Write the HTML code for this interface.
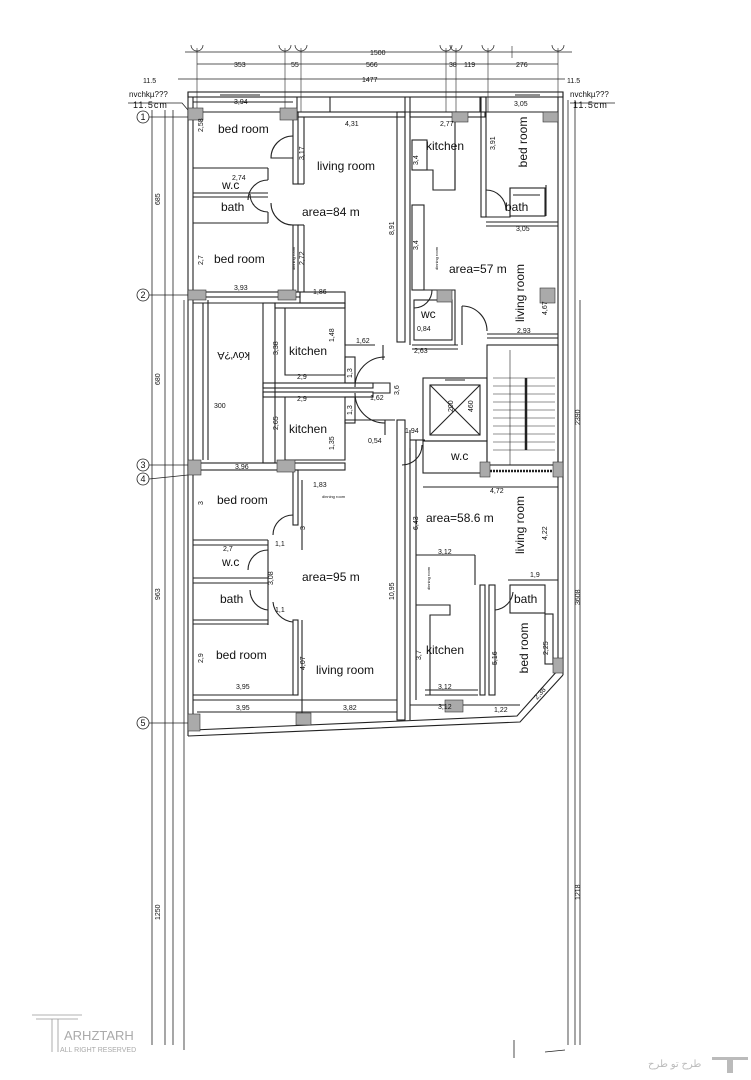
<!DOCTYPE html>
<html><head><meta charset="utf-8"><style>
html,body{margin:0;padding:0;background:#fff;}
svg{display:block;}
text{font-family:"Liberation Sans",sans-serif;fill:#111;}
.l{font-size:12px;}
.d{font-size:7px;}
.s{font-size:4px;}
.m{text-anchor:middle;}
</style></head><body>
<svg width="751" height="1080" viewBox="0 0 751 1080" xmlns="http://www.w3.org/2000/svg">
<g stroke="#222" stroke-width="0.8" fill="none">
<line x1="185" y1="52" x2="572" y2="52"/>
<line x1="197" y1="64" x2="558" y2="64"/>
<line x1="178" y1="79" x2="565" y2="79"/>
<g stroke-width="0.6">
<line x1="197" y1="48" x2="197" y2="112"/><line x1="285" y1="48" x2="285" y2="112"/><line x1="301" y1="48" x2="301" y2="112"/>
<line x1="446" y1="48" x2="446" y2="112"/><line x1="456" y1="48" x2="456" y2="112"/><line x1="488" y1="48" x2="488" y2="112"/><line x1="558" y1="48" x2="558" y2="112"/>
<line x1="512" y1="46" x2="512" y2="58"/>
</g>
<g stroke-width="0.7">
<path d="M191 45 a6 6 0 0 0 12 0"/><path d="M279 45 a6 6 0 0 0 12 0"/><path d="M295 45 a6 6 0 0 0 12 0"/>
<path d="M440 45 a6 6 0 0 0 12 0"/><path d="M450 45 a6 6 0 0 0 12 0"/><path d="M482 45 a6 6 0 0 0 12 0"/><path d="M552 45 a6 6 0 0 0 12 0"/>
</g>
<line x1="152" y1="110" x2="152" y2="1045"/>
<line x1="165" y1="110" x2="165" y2="1045"/>
<line x1="173" y1="110" x2="173" y2="1045"/>
<line x1="184" y1="300" x2="184" y2="1050"/>
<line x1="568" y1="100" x2="568" y2="1045"/>
<line x1="575" y1="100" x2="575" y2="1045"/>
<line x1="580" y1="300" x2="580" y2="1045"/>
<line x1="514" y1="1040" x2="514" y2="1058"/>
<line x1="545" y1="1052" x2="565" y2="1050"/>
<circle cx="143" cy="117" r="6"/><line x1="149" y1="117" x2="188" y2="117"/>
<circle cx="143" cy="295" r="6"/><line x1="149" y1="295" x2="188" y2="295"/>
<circle cx="143" cy="465" r="6"/><line x1="149" y1="465" x2="188" y2="465"/>
<circle cx="143" cy="479" r="6"/><line x1="149" y1="479" x2="188" y2="475"/>
<circle cx="143" cy="723" r="6"/><line x1="149" y1="723" x2="188" y2="723"/>
<path d="M128 103 H182 L188 110"/>
<path d="M570 103 H615"/>
<g stroke-width="1.1">
<rect x="188" y="92" width="375" height="5"/>
<line x1="188" y1="92" x2="188" y2="736"/><line x1="193" y1="97" x2="193" y2="731"/>
<line x1="563" y1="92" x2="563" y2="675"/><line x1="558" y1="97" x2="558" y2="670"/>
<path d="M563 675 L520 722 L188 736"/><path d="M558 670 L517 716 L193 730"/>
<line x1="193" y1="112" x2="558" y2="112"/>
<line x1="297" y1="97" x2="297" y2="112"/><line x1="330" y1="97" x2="330" y2="112"/>
<line x1="405" y1="97" x2="405" y2="112"/><line x1="410" y1="97" x2="410" y2="112"/>
<line x1="480" y1="97" x2="480" y2="112"/><line x1="486" y1="97" x2="486" y2="112"/>
<line x1="220" y1="95" x2="260" y2="95"/><line x1="515" y1="95" x2="540" y2="95"/>
<line x1="193" y1="102" x2="293" y2="102"/>
<rect x="293" y="112" width="5" height="72"/>
<rect x="293" y="225" width="5" height="67"/>
<rect x="298" y="112" width="107" height="5"/>
<line x1="193" y1="168" x2="268" y2="168"/>
<line x1="193" y1="193" x2="268" y2="193"/><line x1="193" y1="197" x2="268" y2="197"/>
<line x1="193" y1="223" x2="268" y2="223"/>
<line x1="268" y1="168" x2="268" y2="180"/><line x1="268" y1="212" x2="268" y2="223"/>
<path d="M268 180 a20 20 0 0 0 -20 20"/><path d="M268 212 a18 18 0 0 1 -18 -18"/>
<path d="M293 136 a22 22 0 0 0 -22 22 L293 158"/>
<path d="M293 225 a22 22 0 0 1 -22 -22"/>
<line x1="298" y1="225" x2="304" y2="225"/><line x1="304" y1="225" x2="304" y2="292"/>
<line x1="298" y1="184" x2="304" y2="184"/><line x1="304" y1="117" x2="304" y2="184"/>
<rect x="397" y="112" width="8" height="230"/>
<rect x="397" y="420" width="8" height="300"/>
<line x1="410" y1="112" x2="410" y2="345"/>
<rect x="410" y="112" width="75" height="5"/>
<rect x="412" y="140" width="15" height="30"/>
<path d="M427 170 H433 V190 H455 V170 H455"/>
<path d="M455 118 V190"/>
<rect x="412" y="205" width="12" height="85"/>
<rect x="481" y="97" width="5" height="120"/>
<line x1="486" y1="112" x2="558" y2="112"/>
<path d="M481 217 H510 V188 H545"/>
<path d="M486 190 a20 20 0 0 1 20 20"/>
<rect x="510" y="188" width="35" height="28"/>
<line x1="513" y1="195" x2="540" y2="195"/>
<line x1="486" y1="222" x2="558" y2="222"/><line x1="486" y1="226" x2="558" y2="226"/>
<line x1="546" y1="185" x2="546" y2="216"/>
<path d="M413 290 H455 V345"/>
<rect x="414" y="300" width="38" height="40"/>
<path d="M432 290 a18 18 0 0 1 -18 18"/>
<path d="M462 306 a25 25 0 0 1 25 25"/>
<line x1="462" y1="306" x2="462" y2="345"/>
<line x1="487" y1="334" x2="558" y2="334"/><line x1="487" y1="338" x2="558" y2="338"/>
<line x1="412" y1="345" x2="458" y2="345"/><line x1="412" y1="349" x2="458" y2="349"/>
<rect x="188" y="292" width="112" height="5"/>
<rect x="300" y="292" width="45" height="11"/>
<line x1="193" y1="303" x2="263" y2="303"/>
<rect x="263" y="303" width="12" height="160"/>
<rect x="275" y="303" width="70" height="5"/>
<path d="M285 308 V375 H345 V303"/>
<path d="M345 330 V345 H375"/>
<rect x="263" y="383" width="110" height="5"/>
<rect x="263" y="392" width="110" height="5"/>
<rect x="345" y="357" width="10" height="26"/>
<rect x="345" y="397" width="10" height="26"/>
<path d="M355 387 a30 30 0 0 1 30 -30"/>
<path d="M355 393 a30 30 0 0 0 30 30"/>
<path d="M373 383 H390 V393 H373"/>
<path d="M285 397 V460 H345 V420"/>
<line x1="345" y1="420" x2="395" y2="420"/>
<line x1="383" y1="345" x2="383" y2="360"/><line x1="385" y1="420" x2="385" y2="435"/>
<line x1="203" y1="303" x2="203" y2="460"/>
<line x1="208" y1="300" x2="208" y2="460"/>
<rect x="188" y="463" width="157" height="7"/>
<line x1="410" y1="440" x2="425" y2="440"/>
<rect x="423" y="378" width="64" height="63"/>
<rect x="430" y="385" width="50" height="50"/>
<line x1="430" y1="385" x2="480" y2="435"/><line x1="480" y1="385" x2="430" y2="435"/>
<line x1="445" y1="380" x2="465" y2="380"/>
<rect x="423" y="441" width="64" height="32"/>
<path d="M410 448 L410 460"/>
<path d="M422 445 a20 20 0 0 1 -20 20"/>
<rect x="487" y="345" width="71" height="120"/>
<g stroke-width="0.6">
<line x1="493" y1="378" x2="555" y2="378"/><line x1="493" y1="386" x2="555" y2="386"/><line x1="493" y1="394" x2="555" y2="394"/>
<line x1="493" y1="402" x2="555" y2="402"/><line x1="493" y1="410" x2="555" y2="410"/><line x1="493" y1="418" x2="555" y2="418"/>
<line x1="493" y1="426" x2="555" y2="426"/><line x1="493" y1="434" x2="555" y2="434"/><line x1="493" y1="442" x2="555" y2="442"/>
<line x1="493" y1="450" x2="555" y2="450"/><line x1="510" y1="350" x2="510" y2="465"/>
</g>
<line x1="526" y1="378" x2="526" y2="450" stroke-width="2.5"/>
<line x1="487" y1="471" x2="558" y2="471" stroke-width="2.5" stroke-dasharray="2 1"/>
<line x1="410" y1="430" x2="410" y2="720"/>
<line x1="416" y1="440" x2="416" y2="700"/>
<line x1="423" y1="487" x2="558" y2="487"/>
<line x1="416" y1="555" x2="475" y2="555"/><line x1="475" y1="555" x2="475" y2="585"/>
<path d="M416 605 H450 V615 H430 V695"/>
<rect x="480" y="585" width="5" height="110"/>
<rect x="489" y="585" width="6" height="110"/>
<line x1="508" y1="580" x2="558" y2="580"/>
<rect x="510" y="585" width="35" height="28"/>
<path d="M495 610 a20 20 0 0 0 18 -18"/>
<rect x="545" y="614" width="8" height="50"/>
<line x1="425" y1="690" x2="478" y2="690"/><line x1="425" y1="695" x2="478" y2="695"/>
<line x1="410" y1="705" x2="490" y2="705"/>
<line x1="490" y1="705" x2="520" y2="705"/>
<rect x="293" y="470" width="5" height="55"/>
<line x1="302" y1="480" x2="302" y2="550"/>
<line x1="193" y1="540" x2="268" y2="540"/><line x1="193" y1="545" x2="268" y2="545"/>
<line x1="193" y1="578" x2="268" y2="578"/><line x1="193" y1="583" x2="268" y2="583"/>
<line x1="193" y1="620" x2="268" y2="620"/><line x1="193" y1="624" x2="268" y2="624"/>
<path d="M293 515 a20 20 0 0 0 -20 20"/><path d="M293 622 a22 22 0 0 1 -20 -20"/>
<path d="M268 550 a20 20 0 0 0 -20 20"/><path d="M268 610 a20 20 0 0 1 -18 -20"/>
<line x1="268" y1="540" x2="268" y2="625"/>
<rect x="293" y="620" width="5" height="75"/>
<line x1="302" y1="620" x2="302" y2="715"/>
<line x1="193" y1="695" x2="298" y2="695"/><line x1="193" y1="700" x2="298" y2="700"/>
<line x1="298" y1="700" x2="397" y2="700"/>
<line x1="197" y1="712" x2="397" y2="712"/>
</g>
</g>
<g fill="#aaa" stroke="#333" stroke-width="0.6">
<rect x="188" y="108" width="15" height="12"/><rect x="280" y="108" width="17" height="12"/>
<rect x="452" y="112" width="16" height="10"/><rect x="543" y="112" width="15" height="10"/>
<rect x="188" y="290" width="18" height="10"/><rect x="278" y="290" width="18" height="10"/>
<rect x="540" y="288" width="15" height="15"/><rect x="437" y="290" width="15" height="12"/>
<rect x="188" y="460" width="13" height="15"/><rect x="277" y="460" width="18" height="12"/>
<rect x="480" y="462" width="10" height="15"/><rect x="553" y="462" width="10" height="15"/>
<rect x="188" y="714" width="12" height="17"/><rect x="296" y="713" width="15" height="12"/>
<rect x="445" y="700" width="18" height="12"/><rect x="553" y="658" width="10" height="15"/>
</g>
<g style="font-size:9px" class="m">
<text x="143" y="120">1</text><text x="143" y="298">2</text><text x="143" y="468">3</text><text x="143" y="482">4</text><text x="143" y="726">5</text>
</g>
<text class="l" x="218" y="133">bed room</text>
<text class="l" x="317" y="170">living room</text>
<text class="l" x="222" y="189">w.c</text>
<text class="l" x="221" y="211">bath</text>
<text class="l" x="302" y="216">area=84 m</text>
<text class="l" x="214" y="263">bed room</text>
<text class="l" x="426" y="150">kitchen</text>
<text class="l" x="505" y="211">bath</text>
<text class="l" x="449" y="273">area=57 m</text>
<text class="l" x="421" y="318">wc</text>
<text class="l" x="289" y="355">kitchen</text>
<text class="l" x="289" y="433">kitchen</text>
<text class="l" x="451" y="460">w.c</text>
<text class="l" x="217" y="504">bed room</text>
<text class="l" x="426" y="522">area=58.6 m</text>
<text class="l" x="222" y="566">w.c</text>
<text class="l" x="302" y="581">area=95 m</text>
<text class="l" x="220" y="603">bath</text>
<text class="l" x="216" y="659">bed room</text>
<text class="l" x="316" y="674">living room</text>
<text class="l" x="426" y="654">kitchen</text>
<text class="l" x="514" y="603">bath</text>
<text class="l m" transform="translate(527,142) rotate(-90)">bed room</text>
<text class="l m" transform="translate(524,293) rotate(-90)">living room</text>
<text class="l m" transform="translate(524,525) rotate(-90)">living room</text>
<text class="l m" transform="translate(528,648) rotate(-90)">bed room</text>
<text class="l" transform="translate(250,352) rotate(180)" style="font-size:11px">kóv'?A</text>
<g class="d">
<text x="234" y="104">3,94</text><text x="345" y="126">4,31</text><text x="440" y="126">2,77</text><text x="514" y="106">3,05</text>
<text x="516" y="231">3,05</text><text x="234" y="290">3,93</text><text x="313" y="294">1,86</text>
<text x="235" y="469">3,96</text><text x="313" y="487">1,83</text><text x="223" y="551">2,7</text>
<text x="275" y="546">1,1</text><text x="275" y="612">1,1</text><text x="236" y="689">3,95</text><text x="236" y="710">3,95</text>
<text x="343" y="710">3,82</text><text x="438" y="709">3,12</text><text x="438" y="689">3,12</text><text x="438" y="554">3,12</text>
<text x="494" y="712">1,22</text><text x="530" y="577">1,9</text><text x="490" y="493">4,72</text>
<text x="356" y="343">1,62</text><text x="370" y="400">1,62</text><text x="417" y="331">0,84</text><text x="414" y="353">2,63</text>
<text x="405" y="433">1,94</text><text x="368" y="443">0,54</text><text x="517" y="333">2,93</text>
<text x="297" y="379">2,9</text><text x="297" y="401">2,9</text><text x="232" y="180">2,74</text><text x="214" y="408">300</text>
<text x="143" y="83">11.5</text><text x="567" y="83">11.5</text>
<text x="370" y="55">1500</text><text x="234" y="67">353</text><text x="291" y="67">55</text><text x="366" y="67">566</text>
<text x="449" y="67">38</text><text x="464" y="67">119</text><text x="516" y="67">276</text><text x="362" y="82">1477</text>
</g>
<g class="d">
<text transform="translate(394,235) rotate(-90)">8,91</text>
<text transform="translate(394,600) rotate(-90)">10,95</text>
<text transform="translate(418,250) rotate(-90)">3,4</text>
<text transform="translate(418,165) rotate(-90)">3,4</text>
<text transform="translate(304,160) rotate(-90)">3,17</text>
<text transform="translate(304,265) rotate(-90)">2,72</text>
<text transform="translate(203,265) rotate(-90)">2,7</text>
<text transform="translate(203,132) rotate(-90)">2,58</text>
<text transform="translate(495,150) rotate(-90)">3,91</text>
<text transform="translate(547,315) rotate(-90)">4,67</text>
<text transform="translate(278,355) rotate(-90)">3,38</text>
<text transform="translate(278,430) rotate(-90)">2,65</text>
<text transform="translate(334,342) rotate(-90)">1,48</text>
<text transform="translate(334,450) rotate(-90)">1,35</text>
<text transform="translate(352,378) rotate(-90)">1,3</text>
<text transform="translate(352,415) rotate(-90)">1,3</text>
<text transform="translate(399,395) rotate(-90)">3,6</text>
<text transform="translate(418,530) rotate(-90)">6,43</text>
<text transform="translate(547,540) rotate(-90)">4,22</text>
<text transform="translate(305,530) rotate(-90)">3</text>
<text transform="translate(203,505) rotate(-90)">3</text>
<text transform="translate(305,670) rotate(-90)">4,07</text>
<text transform="translate(203,663) rotate(-90)">2,9</text>
<text transform="translate(273,585) rotate(-90)">3,08</text>
<text transform="translate(421,660) rotate(-90)">3,7</text>
<text transform="translate(497,665) rotate(-90)">5,16</text>
<text transform="translate(548,655) rotate(-90)">2,25</text>
<text transform="translate(473,412) rotate(-90)">460</text>
<text transform="translate(453,412) rotate(-90)">200</text>
<text transform="translate(537,700) rotate(-48)">2,38</text>
<text transform="translate(160,205) rotate(-90)">685</text>
<text transform="translate(160,385) rotate(-90)">680</text>
<text transform="translate(160,600) rotate(-90)">963</text>
<text transform="translate(160,920) rotate(-90)">1250</text>
<text transform="translate(580,900) rotate(-90)">1218</text>
<text transform="translate(580,605) rotate(-90)">3608</text>
<text transform="translate(580,425) rotate(-90)">2390</text>
</g>
<text class="s" transform="translate(295,270) rotate(-90)">dinning room</text>
<text class="s" transform="translate(438,270) rotate(-90)">dinning room</text>
<text class="s" x="322" y="498">dinning room</text>
<text class="s" transform="translate(430,590) rotate(-90)">dinning room</text>
<text x="129" y="97" style="font-size:8px">nvchkµ???</text>
<text x="133" y="108" style="font-size:9px;letter-spacing:1px">11.5cm</text>
<text x="570" y="97" style="font-size:8px">nvchkµ???</text>
<text x="573" y="108" style="font-size:9px;letter-spacing:1px">11.5cm</text>
<g stroke="#999" stroke-width="0.8" fill="none">
<line x1="32" y1="1015" x2="82" y2="1015"/><line x1="36" y1="1019" x2="78" y2="1019"/>
<line x1="52" y1="1019" x2="52" y2="1052"/><line x1="58" y1="1019" x2="58" y2="1052"/>
</g>
<text x="64" y="1040" style="font-size:13px;fill:#aaa">ARHZTARH</text>
<text x="60" y="1052" style="font-size:7px;fill:#aaa">ALL RIGHT RESERVED</text>
<text x="648" y="1067" style="font-size:10px;fill:#bbb">طرح تو طرح</text>
<rect x="712" y="1057" width="36" height="3" fill="#bbb"/><rect x="727" y="1057" width="6" height="16" fill="#bbb"/>
</svg>
</body></html>
